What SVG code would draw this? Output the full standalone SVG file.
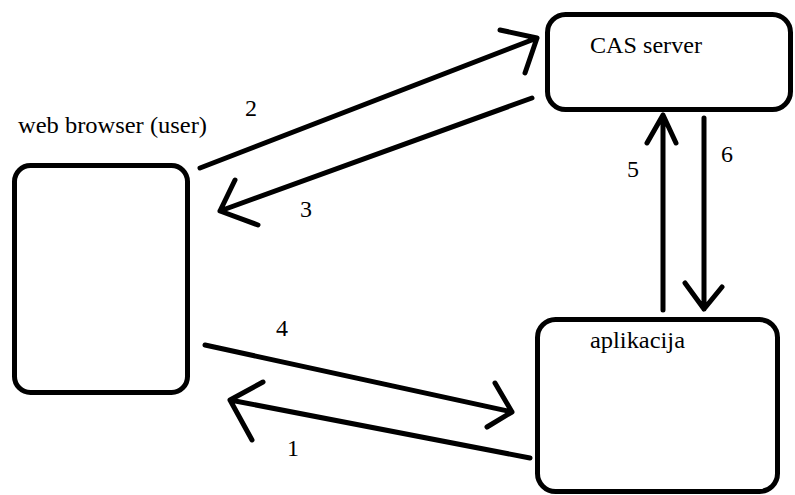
<svg xmlns="http://www.w3.org/2000/svg" width="795" height="495" viewBox="0 0 795 495">
<style>
.box{fill:none;stroke:#000;stroke-width:5}
.ln{fill:none;stroke:#000;stroke-width:5;stroke-linecap:round;stroke-linejoin:round}
.t{font-family:"Liberation Serif","Times New Roman",serif;font-size:24px;fill:#000}
</style>
<rect x="0" y="0" width="795" height="495" fill="#fff"/>
<g id="browser">
<rect class="box" x="14.5" y="165.5" width="173" height="227" rx="16"/>
<text class="t" x="18" y="133" textLength="189" lengthAdjust="spacingAndGlyphs">web browser (user)</text>
</g>
<g id="cas">
<rect class="box" x="547.5" y="14.5" width="243" height="95" rx="18"/>
<text class="t" x="590" y="53" textLength="112" lengthAdjust="spacingAndGlyphs">CAS server</text>
</g>
<g id="app">
<rect class="box" x="537.5" y="319.5" width="240" height="172" rx="18"/>
<text class="t" x="590" y="348" textLength="95" lengthAdjust="spacingAndGlyphs">aplikacija</text>
</g>
<g id="connectors">
<path class="ln" d="M200 168 L537 38 M500 30 L537 38 L525 73"/>
<path class="ln" d="M532 98 L220 211 M235 180 L220 211 L258 225"/>
<path class="ln" d="M663 310 L663 115 M647 143 L663 115 L676 143"/>
<path class="ln" d="M704 118 L704 309 M685 283 L704 309 L722 287"/>
<path class="ln" d="M205 345 L512 412 M495 383 L512 412 L487 427"/>
<path class="ln" d="M530 458 L230 400 M263 382 L230 400 L252 440"/>
<text class="t" x="245" y="116">2</text>
<text class="t" x="300" y="217">3</text>
<text class="t" x="627" y="177">5</text>
<text class="t" x="721" y="162">6</text>
<text class="t" x="276" y="336">4</text>
<text class="t" x="287" y="456">1</text>
</g>
</svg>
